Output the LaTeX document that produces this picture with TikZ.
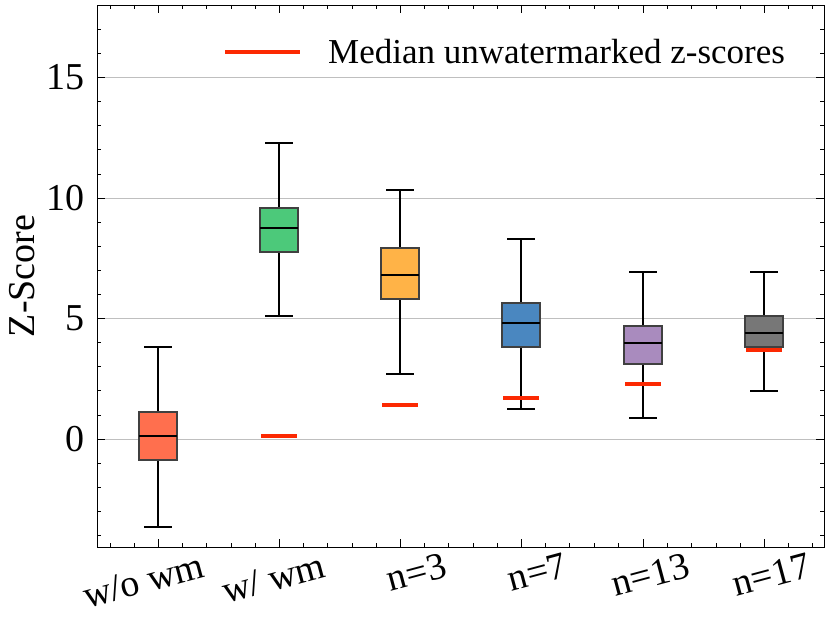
\documentclass[tikz,border=0pt]{standalone}
\usepackage{fontspec}
\setmainfont{Liberation Serif}
\begin{document}
\begin{tikzpicture}[x=1pt,y=-1pt,
  bx/.style={draw=black!75,line width=2.2pt},
  wh/.style={black,line width=1.6pt},
  md/.style={black,line width=2.2pt},
  rm/.style={draw={rgb,255:red,252;green,41;blue,2},line width=4.5pt},
  tk/.style={font=\fontsize{38}{40}\selectfont}]
\useasboundingbox (0,0) rectangle (831,631);
% grid
\foreach \v in {0,5,10,15} \draw[black!25,line width=0.8pt] (97,{439-24.1*\v}) -- (824,{439-24.1*\v});
% boxes
\foreach \x/\wl/\wh/\bl/\bh/\m/\c in {
  158/527/347/460/412/436/{rgb,255:red,255;green,111;blue,78},
  279/316/143/252/208/228/{rgb,255:red,76;green,201;blue,122},
  400/374/190/299/248/275/{rgb,255:red,255;green,179;blue,71},
  521/409/239/347/303/323/{rgb,255:red,74;green,135;blue,192},
  643/418/272/364/326/343/{rgb,255:red,169;green,139;blue,190},
  764/391/272/347/316/333/{rgb,255:red,119;green,119;blue,119}}{
  \draw[wh] (\x,\wl) -- (\x,\bl) (\x,\bh) -- (\x,\wh);
  \draw[wh] (\x-14,\wl) -- (\x+14,\wl) (\x-14,\wh) -- (\x+14,\wh);
  \fill[fill=\c] (\x-19,\bl) rectangle (\x+19,\bh);
  \draw[bx] (\x-19,\bl) rectangle (\x+19,\bh);
  \draw[md] (\x-19,\m) -- (\x+19,\m);
}
% red unwatermarked medians
\foreach \x/\y in {279/436,400/405,521/398,643/384,764/350}
  \draw[rm] (\x-18,\y) -- (\x+18,\y);
% axes frame
\draw[line width=0.9pt] (97,5) rectangle (824,547);
% y ticks
\foreach \v in {-4,...,18} {
  \draw[line width=0.7pt] (97,{439-24.1*\v}) -- (101,{439-24.1*\v});
  \draw[line width=0.7pt] (824,{439-24.1*\v}) -- (820,{439-24.1*\v});}
\foreach \v in {0,5,10,15} {
  \draw[line width=0.9pt] (97,{439-24.1*\v}) -- (105,{439-24.1*\v});
  \draw[line width=0.9pt] (824,{439-24.1*\v}) -- (816,{439-24.1*\v});
  \node[tk,anchor=east] (yl\v) at (88,{439-24.1*\v}) {\v};}
% x ticks
\foreach \x in {158,279,400,521,643,764} {
  \draw[line width=0.9pt] (\x,547) -- (\x,539);
  \draw[line width=0.9pt] (\x,5) -- (\x,13);}
\foreach \x in {110,134,182,206,231,255,303,327,352,376,424,448,473,497,545,569,594,618,667,691,716,740,788,812} {
  \draw[line width=0.7pt] (\x,547) -- (\x,543);
  \draw[line width=0.7pt] (\x,5) -- (\x,9);}
% x labels
\foreach \x/\t/\n in {158/w\slash o wm/a,279/w\slash{} wm/b,400/n=3/c,521/n=7/d,643/n=13/e,764/n=17/f}
  \node[tk,anchor=north east,rotate=15,inner sep=0pt] (xl\n) at (\x+42,552) {\t};
\node[tk,rotate=90] (ylab) at (22,276) {Z-Score};
% legend
\draw[rm] (225,52) -- (300,52);
\node[font=\fontsize{35}{37}\selectfont,anchor=west,inner sep=0pt] (leg) at (328,52) {Median unwatermarked z-scores};
\end{tikzpicture}
\end{document}
